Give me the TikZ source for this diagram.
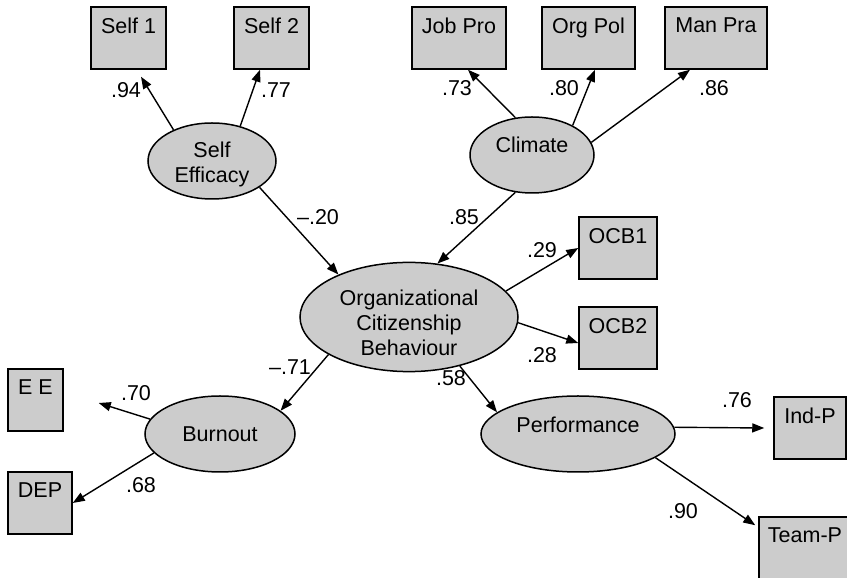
\documentclass[tikz,border=0pt]{standalone}
\usepackage{fontspec}
\setmainfont{Liberation Sans}
\usetikzlibrary{arrows.meta,shapes.geometric}
\definecolor{boxgray}{RGB}{204,204,204}
\newcommand{\boxtext}[3]{\parbox[c][#2][t]{#1}{\centering\vspace{11pt}#3}}
\tikzset{
  obs/.style={draw, fill=boxgray, line width=1.5pt, rectangle, inner sep=0pt},
  lat/.style={draw, fill=boxgray, line width=1.5pt, ellipse, inner sep=0pt},
  arr/.style={-{Triangle[length=12pt,width=9pt]}, line width=1.4pt},
  coef/.style={inner sep=0pt}
}
\begin{document}
\begin{tikzpicture}[x=1pt,y=1pt,font=\fontsize{21.5}{25}\selectfont]
\useasboundingbox (0,0) rectangle (847,578);
\clip (0,0) rectangle (847,578);
% observed indicators
\node[obs] (s1) at (128.5,540) {\boxtext{75pt}{62pt}{Self 1}};
\node[obs] (s2) at (271.5,540) {\boxtext{75pt}{62pt}{Self 2}};
\node[obs] (jp) at (459,540) {\boxtext{94pt}{62pt}{Job Pro}};
\node[obs] (op) at (588.5,540) {\boxtext{93pt}{62pt}{Org Pol}};
\node[obs] (mp) at (716,540) {\boxtext{102pt}{62pt}{Man Pra}};
\node[obs] (ocb1) at (618,330) {\boxtext{78pt}{62pt}{OCB1}};
\node[obs] (ocb2) at (618,240) {\boxtext{78pt}{62pt}{OCB2}};
\node[obs] (ee) at (35.5,178) {\boxtext{55pt}{62pt}{E E}};
\node[obs] (dep) at (40,75) {\boxtext{64pt}{62pt}{DEP}};
\node[obs] (indp) at (810,150) {\boxtext{72pt}{62pt}{Ind-P}};
\node[obs] (teamp) at (805,30) {\boxtext{92pt}{62pt}{Team-P}};
% latent variables
\node[lat, minimum width=128pt, minimum height=76pt, align=center] (se) at (212,417) {\rule{0pt}{22pt}Self\\Efficacy};
\node[lat, minimum width=124pt, minimum height=76pt, text height=15pt, text depth=20pt] (cl) at (532,423) {Climate};
\node[lat, minimum width=218pt, minimum height=100pt, align=center] (ocb) at (409,261) {\rule{0pt}{27pt}Organizational\\Citizenship\\Behaviour};
\node[lat, minimum width=150pt, minimum height=76pt] (bo) at (220,144) {Burnout};
\node[lat, minimum width=194pt, minimum height=76pt, text height=15pt, text depth=18pt] (pf) at (578,144) {Performance};
% paths
\draw[arr] (se.141) -- ([xshift=12.5pt,yshift=-7pt]s1.south);
\draw[arr] (se.51) -- ([xshift=-11.5pt]s2.south);
\draw[arr] (cl.114) -- ([xshift=9pt]jp.south);
\draw[arr] (cl.36) -- ([xshift=6.5pt]op.south);
\draw[arr] (cl.12) -- ([xshift=-26pt]mp.south);
\draw[arr] (se.-29) -- (ocb.149);
\draw[arr] (cl.-114) -- (ocb.62);
\draw[arr] (ocb.15) -- (ocb1.west);
\draw[arr] (ocb.-3) -- ([yshift=-5pt]ocb2.west);
\draw[arr] (ocb.205) -- (bo.21);
\draw[arr] (ocb.-44) -- (pf.165);
\draw[arr] (bo.168) -- ([xshift=35pt,yshift=-3pt]ee.east);
\draw[arr] (bo.196) -- (dep.east);
\draw[arr] (pf.4) -- ([xshift=-9pt]indp.west);
\draw[arr] (pf.-17) -- ([xshift=-3pt,yshift=-9pt]teamp.north west);
% coefficients
\node[coef] (c1) at (126,488) {.94};
\node[coef] (c2) at (276,488) {.77};
\node[coef] (c3) at (457,490) {.73};
\node[coef] (c4) at (564,490) {.80};
\node[coef] (c5) at (714,490) {.86};
\node[coef] (c6) at (318,361) {--.20};
\node[coef] (c7) at (464,361) {.85};
\node[coef] (c8) at (542,328) {.29};
\node[coef] (c9) at (542,223) {.28};
\node[coef] (c10) at (290,211) {--.71};
\node[coef] (c11) at (136,185) {.70};
\node[coef] (c12) at (141,93) {.68};
\node[coef] (c13) at (451,200) {.58};
\node[coef] (c14) at (737,178) {.76};
\node[coef] (c15) at (683,67) {.90};
\end{tikzpicture}
\end{document}
